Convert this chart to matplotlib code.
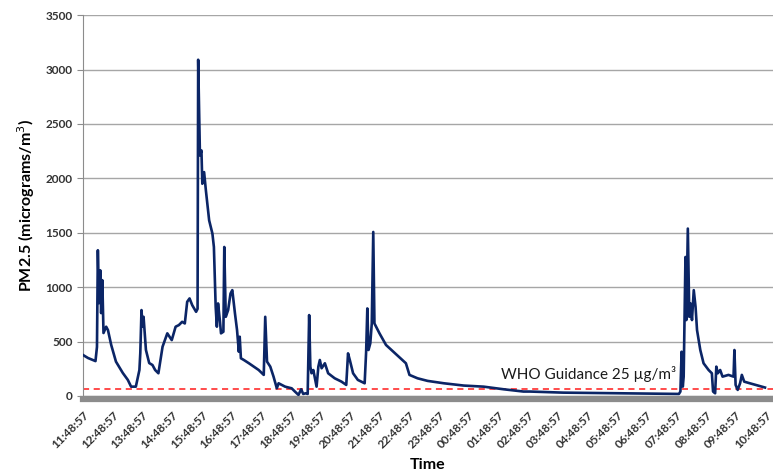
import matplotlib.pyplot as plt

# hours since 11:48:57 and PM2.5 readings (micrograms/m3)
hours = [0.00, 0.17, 0.42, 0.47, 0.50, 0.54, 0.58, 0.61, 0.65, 0.69, 0.78, 0.84, 0.95,
         1.11, 1.34, 1.51, 1.62, 1.78, 1.90, 1.93, 1.97, 2.01, 2.04, 2.12, 2.23, 2.34,
         2.43, 2.54, 2.68, 2.84, 2.99, 3.12, 3.23, 3.34, 3.43, 3.51, 3.59, 3.68, 3.81,
         3.86, 3.88, 3.94, 3.99, 4.02, 4.08, 4.14, 4.25, 4.36, 4.41, 4.47, 4.51, 4.55,
         4.61, 4.65, 4.73, 4.76, 4.81, 4.89, 4.97, 5.03, 5.12, 5.19, 5.25, 5.28, 5.32,
         5.42, 5.59, 5.92, 6.09, 6.14, 6.20, 6.31, 6.42, 6.53, 6.59, 6.81, 7.03, 7.14,
         7.26, 7.35, 7.42, 7.50, 7.57, 7.62, 7.66, 7.70, 7.76, 7.87, 7.93, 7.98, 8.04,
         8.15, 8.26, 8.48, 8.71, 8.87, 8.93, 8.99, 9.10, 9.26, 9.49, 9.54, 9.58, 9.62,
         9.68, 9.73, 9.78, 9.82, 9.99, 10.21, 10.88, 11.00, 11.27, 11.61, 12.16, 12.83,
         13.50, 14.17, 14.84, 15.06, 16.18, 18.07, 20.08, 20.13, 20.17, 20.21, 20.24,
         20.30, 20.33, 20.38, 20.43, 20.47, 20.52, 20.58, 20.64, 20.69, 20.80, 20.91,
         21.08, 21.19, 21.23, 21.30, 21.34, 21.39, 21.47, 21.55, 21.75, 21.92, 21.95,
         21.99, 22.06, 22.14, 22.20, 22.28, 22.47, 22.75, 22.98]
pm25 = [376, 348, 320, 450, 1339, 853, 1155, 761, 1064, 578, 636, 605, 468,
        315, 211, 147, 85, 85, 238, 394, 789, 636, 727, 422, 302, 284,
        238, 208, 452, 575, 513, 636, 651, 681, 666, 865, 896, 834, 773,
        800, 3090, 2210, 2256, 1950, 2057, 1889, 1614, 1492, 1369, 819, 636, 850,
        697, 575, 590, 1369, 727, 789, 941, 972, 758, 605, 406, 544, 346,
        330, 300, 238, 193, 727, 315, 269, 177, 70, 116, 85, 70, 40,
        9, 61, 18, 24, 18, 743, 269, 208, 238, 85, 269, 330, 254,
        300, 208, 162, 131, 101, 391, 330, 208, 147, 116, 406, 804, 422,
        483, 666, 1507, 666, 575, 468, 300, 193, 162, 138, 116, 95,
        85, 61, 40, 40, 30, 24, 18, 40, 406, 85, 177,
        1277, 697, 1538, 727, 850, 697, 972, 819, 605, 422, 300,
        238, 208, 40, 24, 269, 208, 238, 177, 193, 177, 422,
        101, 55, 116, 193, 131, 116, 95, 77]

time_labels = ['11:48:57', '12:48:57', '13:48:57', '14:48:57', '15:48:57', '16:48:57',
               '17:48:57', '18:48:57', '19:48:57', '20:48:57', '21:48:57', '22:48:57',
               '23:48:57', '00:48:57', '01:48:57', '02:48:57', '03:48:57', '04:48:57',
               '05:48:57', '06:48:57', '07:48:57', '08:48:57', '09:48:57', '10:48:57']
who_level = 65

plt.rcParams['font.family'] = ['Lato', 'DejaVu Sans']

fig = plt.figure(figsize=(7.73, 4.73), dpi=100)
ax = fig.add_axes([0.1074, 0.163, 0.8926, 0.805])

# spines first: set_position resets the ticks
for s in ['top', 'right']:
    ax.spines[s].set_visible(False)
ax.spines['left'].set_color('#8c8c8c')
ax.spines['bottom'].set_color('#8c8c8c')
ax.spines['bottom'].set_linewidth(4.5)
ax.spines['bottom'].set_position(('outward', 2))

ax.plot(hours, pm25, color='#0b2566', lw=1.9, solid_joinstyle='round', zorder=3)
ax.axhline(who_level, color='#ff1a1a', lw=1.1, ls=(0, (4, 3)), zorder=2)
ax.text(14.1, 200, 'WHO Guidance 25 µg/m³', fontsize=11, color='#1a1a1a',
        ha='left', va='center')

ax.set_xlim(0, 23.25)
ax.set_ylim(0, 3500)
ax.tick_params(axis='x', length=0, pad=8, labelsize=8.5, labelcolor='#333333')
ax.tick_params(axis='y', length=4, color='#8c8c8c', labelsize=8.5, labelcolor='#333333')
ax.set_yticks(range(0, 3501, 500))
ax.set_yticklabels([str(v) for v in range(0, 3501, 500)], fontweight='bold')
ax.set_xticks(range(len(time_labels)))
ax.set_xticklabels(time_labels, fontweight='bold')
plt.setp(ax.get_xticklabels(), rotation=45, ha='right', rotation_mode='anchor')

ax.yaxis.grid(True, color='#a6a6a6', lw=1)
ax.set_axisbelow(True)

ax.set_ylabel('PM2.5 (micrograms/m$^3$)', fontsize=11.5, fontweight='bold', labelpad=6)
ax.set_xlabel('Time', fontsize=11.5, fontweight='bold', labelpad=5)

fig.savefig('out.png', dpi=100)
